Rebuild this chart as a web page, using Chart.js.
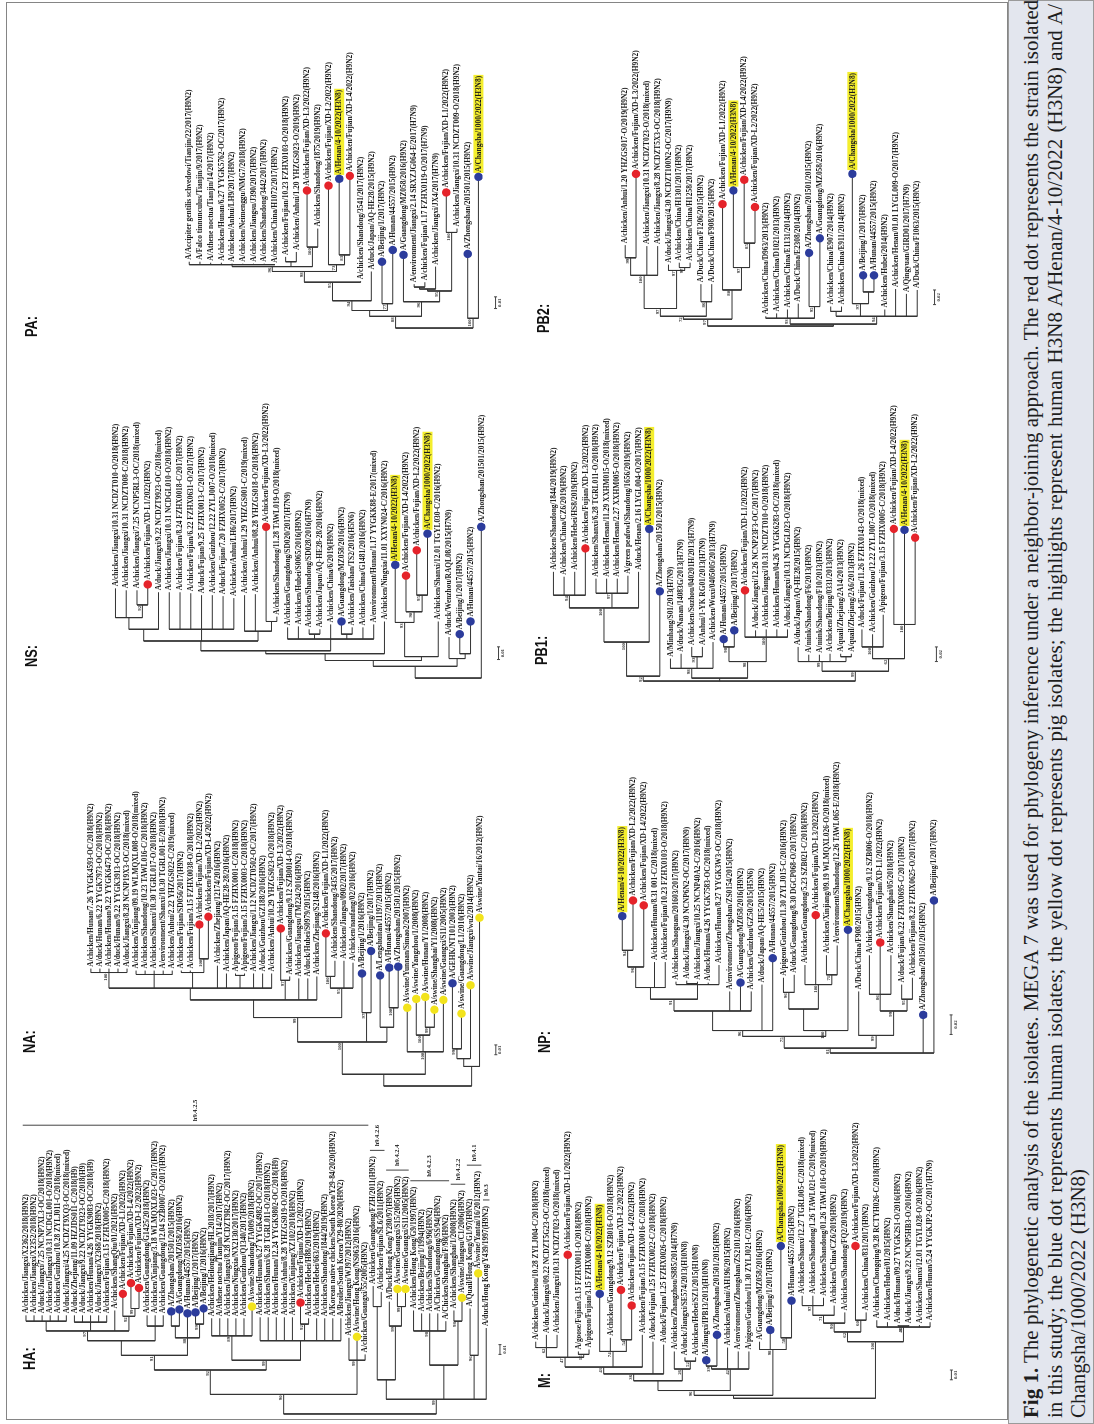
<!DOCTYPE html>
<html>
<head>
<meta charset="utf-8">
<title>Fig 1 - phylogenetic trees</title>
<script src="https://cdn.jsdelivr.net/npm/chart.js@4.4.1/dist/chart.umd.min.js"></script>
<style>
  html, body { margin: 0; padding: 0; background: #fff; }
  body { width: 1094px; height: 1424px; overflow: hidden; position: relative; }
  #fig { position: absolute; left: 0; top: 0; width: 1424px; height: 1094px;
         transform-origin: 0 0; transform: rotate(-90deg) translateX(-1424px); }
  #frame { position: absolute; left: 4px; top: 6px; width: 1418px; height: 1002px;
           box-sizing: border-box; border: 1.5px solid #858585; }
  #cap { position: absolute; left: 0; top: 1008px; width: 1424px; height: 86px;
         background: #e3e6ee; box-sizing: border-box; border: 1px solid #9a9a9a; }
  #cap .ln { position: absolute; left: 5px; width: 1414px; line-height: 23px; white-space: nowrap;
             font: 21px "Liberation Serif", "Times New Roman", serif; color: #1e1e1e; }
  #cap .j { text-align: justify; text-align-last: justify; }
  .tag { position: absolute; font: bold 16px "Liberation Sans", Arial, sans-serif; color: #111;
         transform: scaleX(0.8); transform-origin: 0 0; white-space: nowrap; }
  canvas { position: absolute; }
</style>
</head>
<body>
<div id="fig">
  <div id="frame"></div>
  <div id="cap">
    <div class="ln j" style="top:10px"><b>Fig 1.</b> The phylogenetic analysis of the isolates. MEGA 7 was used for phylogeny inference under a neighbor-joining approach. The red dot represents the strain isolated</div>
    <div class="ln j" style="top:34px">in this study; the blue dot represents human isolates; the yellow dot represents pig isolates; the highlights represent human H3N8 A/Henan/4-10/2022 (H3N8) and A/</div>
    <div class="ln" style="top:57px">Changsha/1000/2022 (H3N8)</div>
  </div>
</div>
<script>
// trees: "(children)bootstrap:depth", leaf = index into the names list, depth = distance from root (0.001 subs/site)

// ---------- HA ----------
const haNames = [
  'A/chicken/Jiangxi/X2362/2018(H9N2)', 'A/chicken/Jiangxi/X2352/2018(H9N2)', 'A/duck/Jiangxi/7.25 NCNP7XL3-OC/2018(H9N2)',
  'A/chicken/Jiangxi/10.31 NCDGL001-O/2018(H9N2)', 'A/chicken/Guizhou/10.28 ZYLJ011-C/2018(mixed)', 'A/duck/Jiangxi/4.25 NCDZT9XQ3-OC/2018(mixed)',
  'A/duck/Zhejiang/11.09 HZJDS011-C/2018(H9)', 'A/duck/Jiangxi/9.22 NCDZT9323-OC/2018(H9)', 'A/chicken/Hunan/4.26 YYGK9083-OC/2018(H9)',
  'A/duck/Jiangxi/X2368/2018(H9N2)', 'A/chicken/Fujian/3.15 FZHX0005-C/2018(H9N2)', 'A/chicken/ShangQiu/01/2021(H9N2)',
  'A/chicken/Fujian/XD-L1/2022(H9N2)', 'A/chicken/Fujian/XD-L4/2022(H9N2)', 'A/chicken/Fujian/XD-L2/2022(H9N2)',
  'A/chicken/Guangdong/G1425/2018(H9N2)', 'A/chicken/Xinjiang/3.18 WLMQXL023-C/2017(H9N2)', 'A/chicken/Guangdong/12.04 SZB0007-O/2017(H9N2)',
  'A/Zhongshan/201501/2015(H9N2)', 'A/Guangdong/MZ058/2016(H9N2)', 'A/Hunan/44557/2015(H9N2)', 'A/Beijing/1/2017(H9N2)',
  'A/Beijing/1/2016(H9N2)', 'A/chicken/Heilongjiang/HL2018/2017(H9N2)', 'A/Athene noctua/Tianjin/Y14/2017(H9N2)',
  'A/chicken/Jiangxi/8.28 NCDZT9R2-OC/2017(H9N2)', 'A/chicken/Ningxia/NX2130/2017(H9N2)', 'A/chicken/Guizhou/Q1340/2017(H9N2)',
  'A/swine/Shandong/TA009/2018(H9N2)', 'A/chicken/Hunan/6.27 YYGK4982-OC/2017(H9N2)', 'A/chicken/Shanxi/6.28 TGRL011-O/2018(H9N2)',
  'A/chicken/Hunan/12.24 YYGK9802-OC/2018(H9)', 'A/chicken/Anhui/8.28 YHZGS019-O/2018(H9N2)', 'A/chicken/Xinjiang/XZ102/2018(H9N2)',
  'A/chicken/Fujian/XD-L3/2022(H9N2)', 'A/chicken/Hebei/H88/2019(H9N2)', 'A/chicken/Hebei/663/2019(H9N2)',
  'A/chicken/Shandong/1844/2019(H9N2)', 'A/Korean native chicken/South Korea/Y29-84/2020(H9N2)', 'A/Broiler/South Korea/Y29-80/2020(H9N2)',
  'A/chicken/Jiangxi/WJ97/2012(H9N2)', 'A/swine/Hong Kong/NS063/2016(H9N2)', 'A/chicken/Guangxi/55/2005(H9N2)',
  'A/chicken/Guangdong/FZH/2011(H9N2)', 'A/chicken/Fujian/SL6/2011(H9N2)', 'A/Duck/Hong Kong/Y280/97(H9N2)',
  'A/swine/Guangxi/S15/2005(H9N2)', 'A/swine/Guangxi/S11/2005(H9N2)', 'A/chicken/Hong Kong/G9/1997(H9N2)',
  'A/chicken/Beijing/1/1994(H9N2)', 'A/chicken/Shandong/6/96(H9N2)', 'A/Chicken/Guangdong/SS/94(H9N2)',
  'A/Chicken/Shanghai/F/98(H9N2)', 'A/chicken/Shanghai/1/2008(H9N2)', 'A/swine/Jiangsu/C1/2006(H9N2)',
  'A/Quail/Hong Kong/G1/97(H9N2)', 'A/swine/Yantai/16/2012(H9N2)', 'A/duck/Hong Kong/Y439/1997(H9N2)'
];
const haTree = '(((((((0:101,1:101,2:101,3:101,4:101,5:101):95,(6:101,7:101,8:101,9:101,10:101):94,11:106,(12:120,(13:131,14:126)99:108)92:100)97:85,(15:101,16:101,17:101):90):75,((18:102,19:104):90,20:100,(21:101,22:105)99:92)88:78)91:60,((23:98,24:98,25:98,26:98,27:98,28:107)89:80,(29:99,30:99,31:99,32:99,33:99,(34:111,35:98)92:92,36:98,37:98,38:98,39:98):75)99:55)92:45,(40:78,41:76,42:61)99:55)90:20,(((43:131,44:125):110,(45:115,(46:125,47:125)99:110)99:90):35,((48:106,49:103,50:103,51:103,52:95)98:85,(53:106,54:116)98:95):50,(55:108,56:141)96:60,57:88)99:15):0';
const haRed = [12, 13, 14, 34];
const haBlue = [18, 19, 20, 21, 22];
const haYellow = [28, 41, 46, 47, 54, 56];
const haHigh = [];
const haCladeNames = ['h9.4.2.5', 'h9.4.2.6', 'h9.4.2.4', 'h9.4.2.3', 'h9.4.2.2', 'h9.4.1', 'h9.3'];
const haCladeFirst = [0, 43, 45, 48, 53, 55, 57];
const haCladeLast = [42, 44, 47, 52, 54, 56, 57];

// ---------- NA ----------
const naNames = [
  'A/chicken/Hunan/7.26 YYGK4593-OC/2018(H9N2)', 'A/duck/Hunan/6.22 YYGK7973-OC/2018(H9N2)', 'A/chicken/Hunan/9.22 YYGK6473-OC/2018(H9N2)',
  'A/duck/Hunan/9.22 YYGK3913-OC/2018(H9N2)', 'A/duck/Jiangxi/8.28 NCNP19X3-OC/2018(mixed)', 'A/chicken/Xinjiang/09.19 WLMQXL008-O/2018(mixed)',
  'A/chicken/Shandong/10.23 TAWL016-C/2018(H9N2)', 'A/chicken/Shanxi/10.30 TGRL017-O/2018(H9N2)', 'A/environment/Shanxi/10.30 TGRL001-E/2018(H9N2)',
  'A/chicken/Anhui/2.22 YHZGS022-C/2019(mixed)', 'A/chicken/Fujian/SD056/2017(H9N2)', 'A/chicken/Fujian/3.15 FZHX0038-O/2018(H9N2)',
  'A/chicken/Fujian/XD-L2/2022(H9N2)', 'A/chicken/Fujian/XD-L4/2022(H9N2)', 'A/chicken/Zhejiang/12174/2016(H9N2)',
  'A/chicken/Japan/AQ-HE28-28/2016(H9N2)', 'A/pigeon/Fujian/3.15 FZHX0001-C/2018(H9N2)', 'A/pigeon/Fujian/3.15 FZHX0003-C/2018(H9N2)',
  'A/chicken/Jiangxi/1.12 NCDZT0502-OC/2017(H9N2)', 'A/duck/Guizhou/GZ188/2016(H9N2)', 'A/chicken/Anhui/10.29 YHZGS023-O/2018(H9N2)',
  'A/chicken/Fujian/XD-L3/2022(H9N2)', 'A/chicken/Guangdong/9.12 SZB0014-O/2018(H9N2)', 'A/chicken/Jiangsu/TM224/2016(H9N2)',
  'A/duck/Hubei/S0979/2015(H9N2)', 'A/chicken/Zhejiang/S2148/2016(H9N2)', 'A/chicken/Fujian/XD-L1/2022(H9N2)',
  'A/chicken/Shandong/3435/2017(H9N2)', 'A/chicken/Jiangsu/0902/2017(H9N2)', 'A/chicken/nanfang/02/2016(H9N2)',
  'A/Beijing/1/2016(H9N2)', 'A/Beijing/1/2017(H9N2)', 'A/Lengshuitan/11197/2013(H9N2)', 'A/Hunan/44557/2015(H9N2)',
  'A/Zhongshan/201501/2015(H9N2)', 'A/swine/Yunnan/Simao2/2007(H9N2)', 'A/swine/Yangzhou/1/2008(H9N2)',
  'A/swine/Hunan/Y1/2008(H9N2)', 'A/swine/Shanghai/Y1/2008(H9N2)', 'A/swine/Guangxi/S11/2005(H9N2)',
  'A/GEHK/NT101/2003(H9N2)', 'A/swine/Guangdong/L1/2010(H9N2)', 'A/swine/Jiangxi/wu2/2014(H9N2)', 'A/swine/Yantai/16/2012(H9N2)'
];
const naTree = '(((((((0:120,1:120,2:120,3:120,4:120)100:116,(5:118,6:118,7:118,8:118,9:118):114,(10:118,11:118,(12:162,13:170)100:130):116,14:123,15:115,(16:115,17:115):113,18:115,19:115,20:115):100,(21:158,22:112)97:108,23:110,24:110,25:112):88,((26:153,27:128)100:112,28:128,29:126)95:100)99:70,(30:112,31:135)97:75,(32:110,(33:118,34:119)100:80):60)100:45,(35:77,(36:86,(37:88,38:75)99:60)100:52,39:85)100:35):12,(((40:102,41:71)99:38,42:100):28,43:169):20):0';
const naRed = [12, 13, 21, 26];
const naBlue = [30, 31, 32, 33, 34, 40];
const naYellow = [35, 36, 37, 38, 39, 41, 42, 43];
const naHigh = [];

// ---------- NS ----------
const nsNames = [
  'A/chicken/Jiangxi/10.31 NCDZT010-O/2018(H9N2)', 'A/chicken/Jiangxi/10.31 NCDZT008-C/2018(H9N2)', 'A/chicken/Jiangxi/7.25 NCNP5RL3-OC/2018(mixed)',
  'A/chicken/Fujian/XD-L1/2022(H9N2)', 'A/duck/Jiangxi/9.22 NCDZT9923-OC/2018(mixed)', 'A/chicken/Jiangxi/10.31 NCDGL010-O/2018(H9N2)',
  'A/chicken/Fujian/8.24 FZHX0018-C/2017(H9N2)', 'A/chicken/Fujian/6.22 FZHX0631-O/2017(H9N2)', 'A/duck/Fujian/9.25 FZHX0013-C/2017(H9N2)',
  'A/chicken/Guizhou/12.22 ZYLJ007-O/2018(mixed)', 'A/duck/Fujian/7.20 FZHX0052-C/2017(H9N2)', 'A/chicken/Anhui/LH6/2017(H9N2)',
  'A/chicken/Anhui/1.29 YHZGS001-C/2019(mixed)', 'A/chicken/Anhui/08.28 YHZGS018-O/2018(H9N2)', 'A/chicken/Fujian/XD-L3/2022(H9N2)',
  'A/chicken/Shandong/11.28 TAWL019-O/2018(mixed)', 'A/chicken/Guangdong/SD020/2017(H7N9)', 'A/chicken/Hubei/S0065/2016(H9N2)',
  'A/chicken/Shandong/SD028/2016(H7N9)', 'A/chicken/Japan/AQ-HE28-28/2016(H9N2)', 'A/chicken/China/6/2019(H9N2)',
  'A/Guangdong/MZ058/2016(H9N2)', 'A/chicken/Taishan/TS2/2016(H5N6)', 'A/chicken/China/G1481/2016(H9N2)',
  'A/environment/Hunan/1.17 YYGKK88-E/2017(mixed)', 'A/chicken/Ningxia/11.01 XXYN024-C/2016(H9N2)', 'A/Henan/4-10/2022(H3N8)',
  'A/chicken/Fujian/XD-L4/2022(H9N2)', 'A/chicken/Fujian/XD-L2/2022(H9N2)', 'A/Changsha/1000/2022(H3N8)',
  'A/chicken/Shanxi/12.01 TGYL030-C/2016(H9N2)', 'A/duck/Wenzhou/RAQL08/2015(H7N9)', 'A/Beijing/1/2017(H9N2)',
  'A/Hunan/44557/2015(H9N2)', 'A/Zhongshan/201501/2015(H9N2)'
];
const nsTree = '((((((((0:92,1:90,(2:90,3:93)92:75):62,4:88):50,(5:88,6:88,7:87,8:85,9:85,10:84,11:82):50,(12:85,13:86,(14:152,15:63):58):48):38,(16:52,17:53,(18:50,19:50):45,20:55,(21:55,22:52):45,23:52,24:55):40):28,25:58):25,((26:113,(27:102,(28:128,29:145)95:85)90:68)93:57,30:58):22):18,(31:42,(32:42,33:55):25):20):12,34:152):0';
const nsRed = [3, 14, 27, 28];
const nsBlue = [21, 26, 29, 32, 33, 34];
const nsYellow = [];
const nsHigh = [26, 29];

// ---------- PA ----------
const paNames = [
  'A/Accipiter gentilis schvedowi/Tianjin/22/2017(H9N2)', 'A/Falco tinnunculus/Tianjin/9/2017(H9N2)', 'A/Athene noctua/Tianjin/14/2017(H9N2)',
  'A/chicken/Hunan/6.27 YYGK5762-OC/2017(H9N2)', 'A/chicken/Anhui/LH9/2017(H9N2)', 'A/chicken/Neimenggu/NMG7/2018(H9N2)',
  'A/chicken/Jiangsu/J390/2017(H9N2)', 'A/chicken/Shandong/3442/2017(H9N2)', 'A/chicken/China/H1072/2017(H9N2)',
  'A/chicken/Fujian/10.23 FZHX0103-O/2018(H9N2)', 'A/chicken/Anhui/1.20 YHZGS023-O/2019(H9N2)', 'A/chicken/Fujian/XD-L3/2022(H9N2)',
  'A/chicken/Shandong/1875/2019(H9N2)', 'A/chicken/Fujian/XD-L2/2022(H9N2)', 'A/Henan/4-10/2022(H3N8)',
  'A/chicken/Fujian/XD-L4/2022(H9N2)', 'A/chicken/Shandong/3541/2017(H9N2)', 'A/duck/Japan/AQ-HE28/2015(H9N2)',
  'A/Beijing/1/2017(H9N2)', 'A/Hunan/44557/2015(H9N2)', 'A/Guangdong/MZ058/2016(H9N2)',
  'A/environment/Jiangxi/2.14 SRXZJG064-E/2017(H7N9)', 'A/chicken/Fujian/1.17 FZHX0119-O/2017(H7N9)', 'A/chicken/Jiangxi/JX4/2017(H7N9)',
  'A/chicken/Fujian/XD-L1/2022(H9N2)', 'A/chicken/Jiangxi/10.31 NCDZT009-O/2018(H9N2)', 'A/Zhongshan/201501/2015(H9N2)',
  'A/Changsha/1000/2022(H3N8)'
];
const paTree = '((((((((0:68,1:68,2:67,3:67,4:66,5:66,6:66,7:66,8:65):65,(9:73,10:78):68,(11:138,12:102)100:83)96:63,(13:143,(14:150,15:153)83:75)73:65)98:58,16:48)95:47,17:58)94:28,(18:65,19:77)77:25):18,(20:72,(((21:45,22:47):42,23:63):40,(24:136,25:102)100:98)95:38)96:27)88:12,(26:73,27:152)100:10):0';
const paRed = [11, 13, 15, 24];
const paBlue = [14, 18, 19, 20, 26, 27];
const paYellow = [];
const paHigh = [14, 27];

// ---------- M ----------
const mNames = [
  'A/chicken/Guizhou/10.28 ZYLJ004-C/2018(H9N2)', 'A/duck/Jiangxi/09.22 NCDZT5G23-OC/2018(mixed)', 'A/chicken/Jiangxi/10.31 NCDZT023-O/2018(mixed)',
  'A/chicken/Fujian/XD-L1/2022(H9N2)', 'A/goose/Fujian/3.15 FZHX0011-O/2018(H9N2)', 'A/pigeon/Fujian/3.15 FZHX0008-C/2018(H9N2)',
  'A/Henan/4-10/2022(H3N8)', 'A/chicken/Guangdong/9.12 SZB016-O/2018(H9N2)', 'A/chicken/Fujian/XD-L2/2022(H9N2)',
  'A/chicken/Fujian/XD-L4/2022(H9N2)', 'A/chicken/Fujian/3.15 FZHX0016-C/2018(H9N2)', 'A/duck/Fujian/1.25 FZHX0022-C/2018(H9N2)',
  'A/duck/Fujian/1.25 FZHX0026-C/2018(H9N2)', 'A/chicken/Zhangzhou/S885/2014(H7N9)', 'A/duck/Jiangxi/SE574/2013(H10N8)',
  'A/chicken/Hebei/SZ1/2015(H10N8)', 'A/Jiangxi/IPB13/2013(H10N8)', 'A/Zhongshan/201501/2015(H9N2)',
  'A/chicken/Anhui/AH196/2015(H9N2)', 'A/environment/Zhongshan/ZS2101/2016(H9N2)', 'A/pigeon/Guizhou/11.30 ZYLJ021-C/2016(H9N2)',
  'A/Guangdong/MZ058/2016(H9N2)', 'A/Beijing/1/2017(H9N2)', 'A/Changsha/1000/2022(H3N8)', 'A/Hunan/44557/2015(H9N2)',
  'A/chicken/Shanxi/12.27 TGRL005-C/2018(mixed)', 'A/chicken/Shandong/1.26 TAWL021-C/2019(mixed)', 'A/chicken/Shandong/01.26 TAWL016-O/2019(H9N2)',
  'A/chicken/China/CZ6/2019(H9N2)', 'A/chicken/Shandong/FQ2/2019(H9N2)', 'A/chicken/Fujian/XD-L3/2022(H9N2)',
  'A/chicken/China/831/2017(H9N2)', 'A/chicken/Chongqing/9.28 RCTYH026-C/2018(H9N2)', 'A/chicken/Hubei/01/2015(H9N2)',
  'A/duck/Hunan/09.27 YYGK2S1-O/2016(H9N2)', 'A/duck/Jiangxi/9.22 NCNP5HB3-O/2016(H9N2)', 'A/chicken/Shanxi/12.01 TGYL028-O/2016(H9N2)',
  'A/chicken/Hunan/5.24 YYGKJP2-OC/2017(H7N9)'
];
const mTree = '((((((((0:58,1:65,2:65)62:52,3:144,(4:48,5:50)15:45)47:42,(6:104,7:62,(8:108,9:92)54:60)74:48,10:65)43:32,11:58,12:55)36:25,(13:48,(14:42,15:42)52:38)26:30):18,((16:36,17:62)39:33,18:52,19:48,20:48)42:30)96:8,(21:58,22:67,(23:153,24:97)58:62)98:50):3,(((((25:105,26:105,27:103)97:95,28:95)71:85,29:88)90:77,(30:153,31:88)60:80)62:68,(32:80,33:78,(34:75,35:75)30:74,36:75,37:78)41:73)100:58):0';
const mRed = [3, 8, 9, 30];
const mBlue = [6, 16, 17, 22, 23, 24];
const mYellow = [];
const mHigh = [6, 23];

// ---------- NP ----------
const npNames = [
  'A/Henan/4-10/2022(H3N8)', 'A/chicken/Fujian/XD-L2/2022(H9N2)', 'A/chicken/Fujian/XD-L4/2022(H9N2)',
  'A/chicken/Hunan/8.31 001-C/2018(mixed)', 'A/chicken/Fujian/10.23 FZHX0103-O/2018(H9N2)', 'A/chicken/Shaoguan/201603/2017(H9N2)',
  'A/duck/Jiangxi/4.30 NCNP6N2-OC/2017(H9N9)', 'A/chicken/Jiangxi/10.25 NCNP40A2-C/2016(H9N2)', 'A/duck/Hunan/4.26 YYGK7583-OC/2018(mixed)',
  'A/chicken/Hunan/8.27 YYGK3W3-OC/2018(H9N2)', 'A/environment/Zhongshan/ZS0154/2015(H9N2)', 'A/Guangdong/MZ058/2016(H9N2)',
  'A/chicken/Guizhou/GZ50/2015(H5N6)', 'A/duck/Japan/AQ-HE5/2015(H9N2)', 'A/Hunan/44557/2015(H9N2)',
  'A/pigeon/Guizhou/11.30 ZYLJ015-C/2016(H9N2)', 'A/duck/Guangdong/8.30 DGCP068-O/2017(H9N2)', 'A/chicken/Guangdong/5.23 SZB021-C/2018(H9N2)',
  'A/chicken/Fujian/XD-L3/2022(H9N2)', 'A/chicken/Xinjiang/09.19 WLMQXL026-O/2018(mixed)', 'A/environment/Shandong/12.26 TAWL065-E/2018(H9N2)',
  'A/Changsha/1000/2022(H3N8)', 'A/Duck/China/F908/2015(H9N2)', 'A/chicken/Guangdong/9.12 SZB006-O/2018(H9N2)',
  'A/chicken/Fujian/XD-L1/2022(H9N2)', 'A/chicken/Shanghai/05/2018(H9N2)', 'A/duck/Fujian/6.22 FZHX0695-C/2017(H9N2)',
  'A/chicken/Fujian/8.22 FZHX0625-O/2017(H9N2)', 'A/Zhongshan/201501/2015(H9N2)', 'A/Beijing/1/2017(H9N2)'
];
const npTree = '(((((((((0:137,1:153)94:105,2:148)96:88,3:93,4:93):67,(5:73,(6:74,7:73):71,8:72,9:90):70)91:55,10:63,11:69,12:63):43,13:70,14:94)96:23,(((15:77,16:80)96:62,(17:90,18:138,(19:100,20:110)71:80)100:70):45,21:123)100:23)75:17,(22:63,((23:100,24:110,25:100)86:60,(26:70,27:77)95:55)99:43)99:18)81:5,28:36,29:153):0';
const npRed = [1, 2, 18, 24];
const npBlue = [0, 11, 14, 21, 28, 29];
const npYellow = [];
const npHigh = [0, 21];

// ---------- PB1 ----------
const pb1Names = [
  'A/chicken/Shandong/1844/2019(H9N2)', 'A/chicken/China/CZ6/2019(H9N2)', 'A/chicken/Hebei/HS8/2019(H9N2)',
  'A/chicken/Fujian/XD-L3/2022(H9N2)', 'A/chicken/Shanxi/6.28 TGRL011-O/2018(H9N2)', 'A/chicken/Henan/11.29 XXHM015-O/2018(mixed)',
  'A/chicken/Henan/2.27 XXHM005-O/2018(H9N2)', 'A/green peafowl/Shandong/1656/2019(H9N2)', 'A/duck/Henan/2.16 LYGL004-O/2017(H9N2)',
  'A/Changsha/1000/2022(H3N8)', 'A/Zhongshan/201501/2015(H9N2)', 'A/Minhang/S01/2013(H7N9)',
  'A/duck/Nanan/14083G/2013(H7N9)', 'A/chicken/Suzhou/040201H/2013(H7N9)', 'A/Anhui/1-YK RG01/2013(H7N9)',
  'A/chicken/Wuxi/0405005/2013(H7N9)', 'A/Hunan/44557/2015(H9N2)', 'A/Beijing/1/2017(H9N2)',
  'A/chicken/Fujian/XD-L1/2022(H9N2)', 'A/duck/Jiangxi/12.26 NCNP23F3-OC/2017(H9N2)', 'A/chicken/Jiangxi/10.31 NCDZT010-O/2018(H9N2)',
  'A/chicken/Hunan/04.26 YYGK6283-OC/2018(mixed)', 'A/duck/Jiangxi/10.31 NCDGL023-O/2018(H9N2)', 'A/duck/Japan/AQ-HE28/2015(H9N2)',
  'A/mink/Shandong/F6/2013(H9N2)', 'A/mink/Shandong/F10/2013(H9N2)', 'A/chicken/Beijing/0331/2013(H9N2)',
  'A/quail/Zhejiang/2A14/2013(H9N2)', 'A/quail/Zhejiang/2A6/2013(H9N2)', 'A/duck/Fujian/11.26 FZHX0143-O/2018(mixed)',
  'A/chicken/Guizhou/12.22 ZYLJ007-O/2018(mixed)', 'A/pigeon/Fujian/3.15 FZHX0005-C/2018(H9N2)', 'A/chicken/Fujian/XD-L4/2022(H9N2)',
  'A/Henan/4-10/2022(H3N8)', 'A/chicken/Fujian/XD-L2/2022(H9N2)'
];
const pb1Tree = '(((((0:112,1:107,2:112,3:133)94:88,(4:105,5:105,6:105,7:108)97:90,8:112)100:75,9:153)100:40,10:89)92:5,((11:23,12:28,(13:35,14:35)93:25,15:40)98:13,((16:40,17:49)98:35,(18:90,19:52,20:53,21:53,22:53)100:45)98:20):3,((23:35,24:27,25:27,26:28,(27:28,28:28):25)99:20,((29:53,30:48,31:68)100:35,(32:153,33:152,34:144)100:58)62:23)99:10):0';
const pb1Red = [3, 18, 32, 34];
const pb1Blue = [9, 10, 16, 17, 33];
const pb1Yellow = [];
const pb1High = [9, 33];

// ---------- PB2 ----------
const pb2Names = [
  'A/chicken/Anhui/1.20 YHZGS017-O/2019(H9N2)', 'A/chicken/Fujian/XD-L3/2022(H9N2)', 'A/chicken/Jiangxi/10.31 NCDZT023-O/2018(mixed)',
  'A/chicken/Jiangxi/8.28 NCDZT5X3-OC/2018(H9N2)', 'A/duck/Jiangxi/4.30 NCDZT100N2-OC/2017(H9N9)', 'A/chicken/China/H1301/2017(H9N2)',
  'A/chicken/China/H1258/2017(H9N2)', 'A/Duck/China/F1206/2015(H9N2)', 'A/Duck/China/F908/2015(H9N2)',
  'A/chicken/Fujian/XD-L1/2022(H9N2)', 'A/Henan/4-10/2022(H3N8)', 'A/chicken/Fujian/XD-L4/2022(H9N2)',
  'A/chicken/Fujian/XD-L2/2022(H9N2)', 'A/chicken/China/D963/2013(H9N2)', 'A/chicken/China/D1021/2013(H9N2)',
  'A/chicken/China/E1131/2014(H9N2)', 'A/Duck/China/E2308/2014(H9N2)', 'A/Zhongshan/201501/2015(H9N2)',
  'A/Guangdong/MZ058/2016(H9N2)', 'A/chicken/China/E907/2014(H9N2)', 'A/chicken/China/E911/2014(H9N2)',
  'A/Changsha/1000/2022(H3N8)', 'A/Beijing/1/2017(H9N2)', 'A/Hunan/44557/2015(H9N2)', 'A/chicken/Hubei/2014(H9N2)',
  'A/chicken/Henan/01.01 LYGL009-O/2017(H9N2)', 'A/Qingyuan/GIRD01/2017(H7N9)', 'A/Duck/China/F1063/2015(H9N2)'
];
const pb2Tree = '((((((0:83,1:153)99:70,2:82,3:82)100:52,(4:63,(5:65,6:65)97:60)97:57)97:18,(7:43,8:43)86:25)72:10,(9:122,(10:136,(11:147,12:119)85:85)97:60)80:37)97:7,((13:10,14:13,15:17,16:23,(17:72,18:87)95:20)93:8,((19:20,20:20):15,(21:153,(22:49,23:49):35)97:23,24:17,25:38,26:33,27:37)94:10):2):0';
const pb2Red = [1, 9, 11, 12];
const pb2Blue = [10, 17, 18, 21, 22, 23];
const pb2Yellow = [];
const pb2High = [10, 21];

const RED = '#e5232a', BLUE = '#2c3c9c', YELLOW = '#f2e31c', HIGH = '#f4ee2d', INK = '#1b1b1b';
const LEAF_FONT = 'bold 7.4px "Liberation Serif", "Times New Roman", serif';
const SMALL_FONT = 'bold 4.8px "Liberation Serif", "Times New Roman", serif';

// panel placement in the unrotated figure (u across, v down)
const panels = [
  { tag: 'HA:', names: haNames, tree: haTree, red: haRed, blue: haBlue, yellow: haYellow, hi: haHigh,
    clades: { names: haCladeNames, first: haCladeFirst, last: haCladeLast },
    row: 0, left: 0, width: 356, root: 6, v0: 22, gap: 8.21, tagAt: [54, 21], bar: { at: 61, idx: 58.7, len: 10, txt: '0.01' } },
  { tag: 'NA:', names: naNames, tree: naTree, red: naRed, blue: naBlue, yellow: naYellow, hi: naHigh,
    row: 0, left: 324, width: 390, root: 334, v0: 88, gap: 9.19, tagAt: [371, 21], bar: { at: 32, idx: 44.8, len: 10, txt: '0.01' } },
  { tag: 'NS:', names: nsNames, tree: nsTree, red: nsRed, blue: nsBlue, yellow: nsYellow, hi: nsHigh,
    row: 0, left: 732, width: 340, root: 742, v0: 113, gap: 10.94, tagAt: [757, 23], bar: { at: 19, idx: 35.6, len: 13, txt: '0.01' } },
  { tag: 'PA:', names: paNames, tree: paTree, red: paRed, blue: paBlue, yellow: paYellow, hi: paHigh,
    row: 0, left: 1082, width: 342, root: 1092, v0: 188, gap: 10.89, tagAt: [1087, 23], bar: { at: 20, idx: 28.6, len: 12, txt: '0.01' } },
  { tag: 'M:', names: mNames, tree: mTree, red: mRed, blue: mBlue, yellow: mYellow, hi: mHigh,
    row: 1, left: 0, width: 356, root: 22, v0: 532, gap: 10.84, tagAt: [36, 536], bar: { at: 19, idx: 39, len: 10, txt: '0.01' } },
  { tag: 'NP:', names: npNames, tree: npTree, red: npRed, blue: npBlue, yellow: npYellow, hi: npHigh,
    row: 1, left: 357, width: 380, root: 367, v0: 620, gap: 10.93, tagAt: [371, 536], bar: { at: 19, idx: 30.6, len: 20, txt: '0.02' } },
  { tag: 'PB1:', names: pb1Names, tree: pb1Tree, red: pb1Red, blue: pb1Blue, yellow: pb1Yellow, hi: pb1High,
    row: 1, left: 729, width: 340, root: 739, v0: 550, gap: 10.82, tagAt: [759, 533], bar: { at: 20, idx: 36, len: 15, txt: '0.02' } },
  { tag: 'PB2:', names: pb2Names, tree: pb2Tree, red: pb2Red, blue: pb2Blue, yellow: pb2Yellow, hi: pb2High,
    row: 1, left: 1084, width: 340, root: 1094, v0: 623, gap: 11, tagAt: [1091, 535], bar: { at: 22, idx: 28.6, len: 15, txt: '0.02' } }
];

function parseTree(str) {
  let i = 0;
  function num() {
    const s = i;
    while (i < str.length && /[0-9.]/.test(str[i])) i++;
    return parseFloat(str.slice(s, i));
  }
  function node() {
    let n;
    if (str[i] === '(') {
      i++;
      const kids = [node()];
      while (str[i] === ',') { i++; kids.push(node()); }
      if (str[i] !== ')') throw new Error('bad tree near ' + i);
      i++;
      n = { kids: kids };
      if (/[0-9]/.test(str[i])) n.boot = num();
    } else {
      n = { leaf: num() };
    }
    if (str[i] !== ':') throw new Error('missing depth near ' + i);
    i++;
    n.depth = num();
    return n;
  }
  return node();
}

const fig = document.getElementById('fig');

function drawPanel(p) {
  const root = parseTree(p.tree);
  const tips = new Array(p.names.length);
  const inner = [];
  (function walk(n) {
    if (n.kids) {
      n.kids.forEach(walk);
      n.y = (n.kids[0].y + n.kids[n.kids.length - 1].y) / 2;
      inner.push(n);
    } else {
      n.y = n.leaf;
      tips[n.leaf] = n.depth;
    }
  })(root);
  for (let k = 0; k < tips.length; k++) {
    if (tips[k] === undefined) throw new Error(p.tag + ' missing leaf ' + k);
  }

  // branches: vertical joins and horizontal edges, broken by nulls
  const branches = [];
  inner.forEach(n => {
    branches.push({ x: n.depth, y: n.kids[0].y }, { x: n.depth, y: n.kids[n.kids.length - 1].y }, { x: null, y: null });
    n.kids.forEach(c => branches.push({ x: n.depth, y: c.y }, { x: c.depth, y: c.y }, { x: null, y: null }));
  });
  const marked = new Set([].concat(p.red, p.blue, p.yellow));
  const dotData = list => list.map(k => ({ x: tips[k] + 3, y: k }));
  const textX = k => tips[k] + (marked.has(k) ? 8 : 2);

  const top = p.row ? 505 : 8, h = p.row ? 500 : 510;
  const cv = document.createElement('canvas');
  cv.width = p.width; cv.height = h;
  cv.style.left = p.left + 'px'; cv.style.top = top + 'px';
  cv.style.width = p.width + 'px'; cv.style.height = h + 'px';
  fig.appendChild(cv);

  const tag = document.createElement('div');
  tag.className = 'tag';
  tag.textContent = p.tag;
  tag.style.left = p.tagAt[0] + 'px';
  tag.style.top = p.tagAt[1] + 'px';
  fig.appendChild(tag);

  const xMin = p.left - p.root;
  const yMin = (top - p.v0) / p.gap;

  const treeText = {
    id: 'treeText',
    beforeDatasetsDraw(chart) {
      const { ctx, scales: { x, y } } = chart;
      ctx.save();
      ctx.font = LEAF_FONT;
      ctx.fillStyle = HIGH;
      const bh = Math.min(p.gap * 0.95, 10);
      p.hi.forEach(k => {
        const lx = x.getPixelForValue(textX(k));
        const w = ctx.measureText(p.names[k]).width;
        ctx.fillRect(lx - 1, y.getPixelForValue(k) - bh / 2, w + 2, bh);
      });
      ctx.restore();
    },
    afterDatasetsDraw(chart) {
      const { ctx, scales: { x, y } } = chart;
      ctx.save();
      ctx.font = LEAF_FONT;
      ctx.fillStyle = INK;
      ctx.textBaseline = 'middle';
      const ends = [];
      p.names.forEach((name, k) => {
        const lx = x.getPixelForValue(textX(k));
        ctx.fillText(name, lx, y.getPixelForValue(k) + 0.3);
        ends[k] = lx + ctx.measureText(name).width;
      });

      // bootstrap values
      ctx.font = SMALL_FONT;
      ctx.fillStyle = '#333';
      ctx.textAlign = 'right';
      ctx.textBaseline = 'bottom';
      inner.forEach(n => {
        if (n.boot === undefined) return;
        ctx.fillText(String(n.boot), x.getPixelForValue(n.depth) - 1, y.getPixelForValue(n.y) - 0.5);
      });

      // scale bar
      const b = p.bar;
      const bx0 = x.getPixelForValue(b.at), bx1 = x.getPixelForValue(b.at + b.len), by = y.getPixelForValue(b.idx);
      ctx.strokeStyle = '#444';
      ctx.lineWidth = 1;
      ctx.beginPath();
      ctx.moveTo(bx0, by); ctx.lineTo(bx1, by);
      ctx.moveTo(bx0, by - 1.5); ctx.lineTo(bx0, by + 1.5);
      ctx.moveTo(bx1, by - 1.5); ctx.lineTo(bx1, by + 1.5);
      ctx.stroke();
      ctx.textAlign = 'center';
      ctx.textBaseline = 'top';
      ctx.fillText(b.txt, (bx0 + bx1) / 2, by + 2);

      // clade brackets
      if (p.clades) {
        ctx.font = 'bold 6.5px "Liberation Serif", "Times New Roman", serif';
        ctx.textAlign = 'left';
        ctx.textBaseline = 'middle';
        ctx.fillStyle = INK;
        p.clades.names.forEach((cn, c) => {
          const a = p.clades.first[c], z = p.clades.last[c];
          let m = 0;
          for (let k = a; k <= z; k++) m = Math.max(m, ends[k]);
          const cx = m + 6;
          ctx.beginPath();
          ctx.moveTo(cx, y.getPixelForValue(a - 0.4));
          ctx.lineTo(cx, y.getPixelForValue(z + 0.4));
          ctx.stroke();
          ctx.fillText(cn, cx + 4, y.getPixelForValue((a + z) / 2));
        });
      }
      ctx.restore();
    }
  };

  new Chart(cv, {
    type: 'scatter',
    data: {
      datasets: [
        { data: branches, showLine: true, spanGaps: false, borderColor: '#333', borderWidth: 1,
          pointRadius: 0, pointHitRadius: 0, order: 3 },
        { data: dotData(p.red), pointRadius: 4.2, pointBackgroundColor: RED, pointBorderWidth: 0, order: 1 },
        { data: dotData(p.blue), pointRadius: 4.2, pointBackgroundColor: BLUE, pointBorderWidth: 0, order: 1 },
        { data: dotData(p.yellow), pointRadius: 4.2, pointBackgroundColor: YELLOW, pointBorderWidth: 0, order: 1 }
      ]
    },
    options: {
      responsive: false,
      animation: false,
      events: [],
      layout: { padding: 0 },
      scales: {
        x: { type: 'linear', display: false, min: xMin, max: xMin + p.width },
        y: { type: 'linear', display: false, reverse: true, min: yMin, max: yMin + h / p.gap }
      },
      plugins: { legend: { display: false }, tooltip: { enabled: false } }
    },
    plugins: [treeText]
  });
}

panels.forEach(drawPanel);
</script>
</body>
</html>
